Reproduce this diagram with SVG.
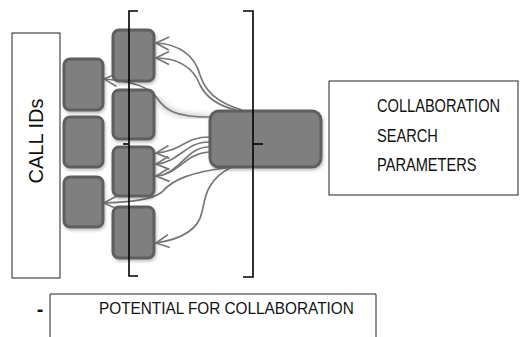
<svg xmlns="http://www.w3.org/2000/svg" width="520" height="337" viewBox="0 0 520 337">
<style>
.box{fill:#fff;stroke:#222;stroke-width:1}
.sq{fill:#7f7f7f;stroke:#5f5f5f;stroke-width:3;filter:url(#sh)}
.br{fill:none;stroke:#000;stroke-width:1.6}
.ln{fill:none;stroke:#777;stroke-width:1.7;marker-end:url(#ar)}
.t{font-family:"Liberation Sans",Arial,sans-serif;fill:#111}
</style>
<defs>
<marker id="ar" viewBox="0 0 15 15" refX="14" refY="7.5" markerWidth="15" markerHeight="15" markerUnits="userSpaceOnUse" orient="auto">
<path d="M1 1 L14 7.5 L1 14" fill="none" stroke="#777" stroke-width="1.7"/>
</marker>
<filter id="sh" x="-20%" y="-20%" width="150%" height="150%">
<feGaussianBlur in="SourceAlpha" stdDeviation="1.5"/>
<feOffset dx="1" dy="2" result="b"/>
<feComponentTransfer><feFuncA type="linear" slope="0.25"/></feComponentTransfer>
<feMerge><feMergeNode/><feMergeNode in="SourceGraphic"/></feMerge>
</filter>
<filter id="blur"><feGaussianBlur stdDeviation="2.5"/></filter>
</defs>

<g id="call-ids">
<rect class="box" x="12" y="33" width="48" height="245"/>
<text class="t" font-size="20" transform="translate(43,141) rotate(-90)" text-anchor="middle">CALL IDs</text>
</g>

<g id="search-params">
<rect class="box" x="329" y="81" width="189" height="114"/>
<g transform="translate(377,0) scale(0.79,1)">
<text class="t" font-size="18.5" x="0" y="112">COLLABORATION</text>
<text class="t" font-size="18.5" x="0" y="142">SEARCH</text>
<text class="t" font-size="18.5" x="0" y="171">PARAMETERS</text>
</g>
</g>

<g id="potential">
<path d="M50 337 V294 H376 V337" fill="#fff" stroke="#222" stroke-width="1"/>
<text class="t" font-size="16.5" transform="translate(99,314) scale(0.93,1)">POTENTIAL FOR COLLABORATION</text>
<text class="t" font-size="20" font-weight="bold" x="40" y="316" text-anchor="middle">-</text>
</g>

<g id="connectors">
<path d="M157 98 C165 110 175 117 209 117" fill="none" stroke="#bbb" stroke-width="5" filter="url(#blur)" opacity="0.7"/>
<path class="ln" d="M242 110 C215 102 205 90 200 75 C195 55 178 44 156 43"/>
<path class="ln" d="M236 110 C215 105 205 95 200 85 C193 66 176 58 156 58"/>
<path class="ln" d="M209 117 C175 117 165 110 157 98 C150 87 130 81 104 79"/>
<path class="ln" d="M209 137 C185 137 182 151 156 153"/>
<path class="ln" d="M209 142 C185 142 180 162 156 164"/>
<path class="ln" style="marker-end:none" d="M209 147 C188 147 182 168 165 174"/>
<path class="ln" d="M209 152 C185 153 180 174 156 176"/>
<path class="ln" d="M232 167 C190 172 172 180 162 192 C152 200 130 202 104 203"/>
<path class="ln" d="M232 167 C205 180 205 200 202 212 C198 232 176 240 156 243"/>
</g>

<g id="left-1"><rect class="sq" x="64" y="59" width="39" height="51" rx="6"/></g>
<g id="left-2"><rect class="sq" x="64" y="117" width="39" height="50" rx="6"/></g>
<g id="left-3"><rect class="sq" x="64" y="177" width="39" height="50" rx="6"/></g>
<g id="mid-1"><rect class="sq" x="113" y="30" width="41" height="51" rx="6"/></g>
<g id="mid-2"><rect class="sq" x="113" y="90" width="41" height="49" rx="6"/></g>
<g id="mid-3"><rect class="sq" x="113" y="147" width="41" height="49" rx="6"/></g>
<g id="mid-4"><rect class="sq" x="113" y="207" width="41" height="51" rx="6"/></g>
<g id="hub"><rect class="sq" x="210" y="111" width="111" height="56" rx="9"/></g>

<g id="brackets">
<path class="br" d="M138 11 H129 V276 H138"/>
<path class="br" d="M123 144 H129"/>
<path class="br" d="M243 11 H253 V277 H243"/>
<path class="br" d="M253 144 H263"/>
</g>
</svg>
